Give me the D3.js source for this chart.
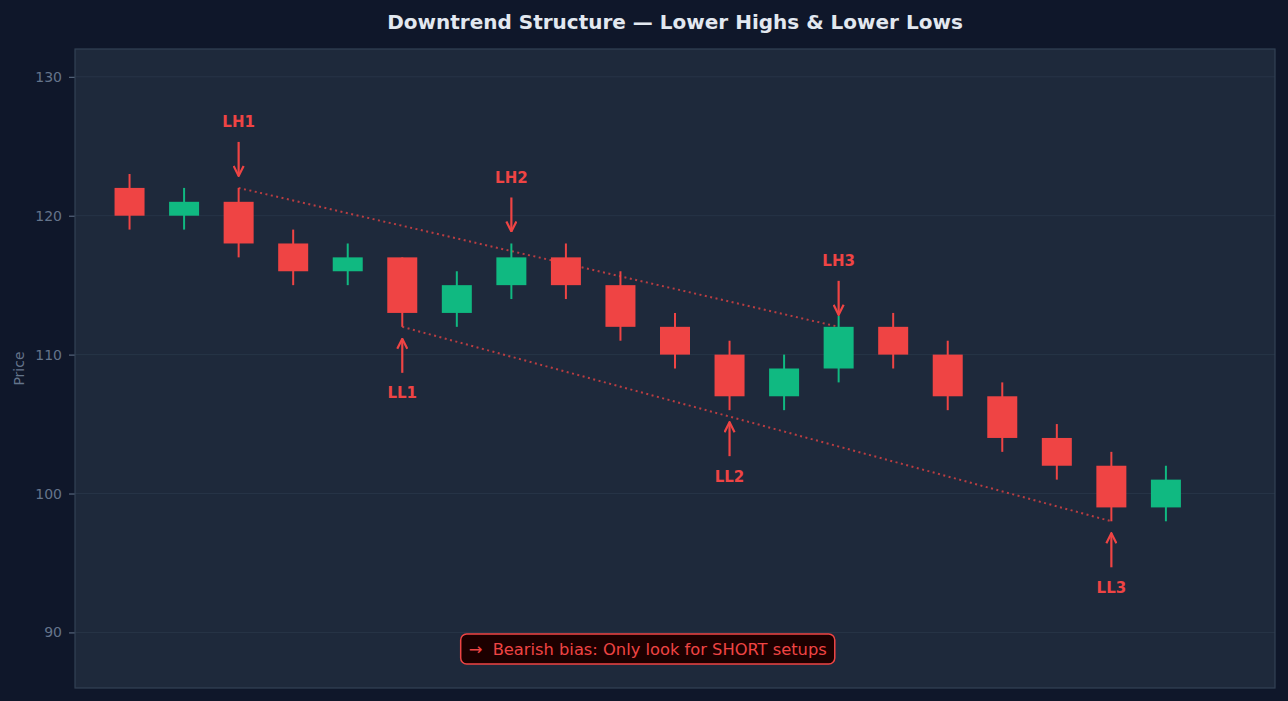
<!DOCTYPE html>
<html>
<head>
<meta charset="utf-8">
<script src="https://cdn.jsdelivr.net/npm/d3@7"></script>
<style>
  html, body { margin: 0; padding: 0; background: #0f172a; }
  svg { display: block; font-family: "DejaVu Sans", sans-serif; }
</style>
</head>
<body>
<div id="chart"></div>
<script>
// Candle data (open, high, low, close), one entry per bar
var opens  = [122, 120, 121, 118, 116, 117, 113, 115, 117, 115, 112, 110, 107, 109, 112, 110, 107, 104, 102,  99];
var highs  = [123, 122, 122, 119, 118, 117, 116, 118, 118, 116, 113, 111, 110, 112.8, 113, 111, 108, 105, 103, 102];
var lows   = [119, 119, 117, 115, 115, 112, 112, 114, 114, 111, 109, 106, 106, 108, 109, 106, 103, 101,  98,  98];
var closes = [120, 121, 118, 116, 117, 113, 115, 117, 115, 112, 110, 107, 109, 112, 110, 107, 104, 102,  99, 101];

// Swing points
var highLabels = ["LH1", "LH2", "LH3"];
var highIdx    = [2, 7, 13];
var highVals   = [122, 118, 112];
var lowLabels  = ["LL1", "LL2", "LL3"];
var lowIdx     = [5, 11, 18];
var lowVals    = [112, 106, 98];

var yTicks = [90, 100, 110, 120, 130];
var titleText = "Downtrend Structure \u2014 Lower Highs & Lower Lows";
var biasText = "\u2192  Bearish bias: Only look for SHORT setups";

var width = 1288, height = 701;
var margin = { top: 49, right: 13, bottom: 13, left: 75 };

var red = "#ef4444", green = "#10b981";

var svg = d3.select("#chart").append("svg")
    .attr("width", width)
    .attr("height", height);

svg.append("rect").attr("width", width).attr("height", height).attr("fill", "#0f172a");

var x = d3.scaleLinear().domain([-1, 21]).range([margin.left, width - margin.right]);
var y = d3.scaleLinear().domain([86, 132]).range([height - margin.bottom, margin.top]);

// plot background
svg.append("rect")
    .attr("x", x.range()[0])
    .attr("y", y.range()[1])
    .attr("width", x.range()[1] - x.range()[0])
    .attr("height", y.range()[0] - y.range()[1])
    .attr("fill", "#1e293b");

// grid lines
svg.append("g").selectAll("line")
    .data(yTicks)
    .enter().append("line")
    .attr("x1", x.range()[0]).attr("x2", x.range()[1])
    .attr("y1", function (d) { return y(d); })
    .attr("y2", function (d) { return y(d); })
    .attr("stroke", "#273447")
    .attr("stroke-width", 1);

// y axis
var yAxis = svg.append("g")
    .attr("transform", "translate(" + x.range()[0] + ",0)")
    .call(d3.axisLeft(y).tickValues(yTicks).tickSize(6).tickPadding(7));
yAxis.select(".domain").remove();
yAxis.selectAll("line").attr("stroke", "#64748b");
yAxis.selectAll("text").attr("fill", "#64748b").style("font-size", "14px")
    .style("font-family", "DejaVu Sans, sans-serif");

svg.append("text")
    .attr("transform", "translate(24," + ((y.range()[0] + y.range()[1]) / 2) + ") rotate(-90)")
    .attr("text-anchor", "middle")
    .attr("fill", "#64748b")
    .style("font-size", "14px")
    .text("Price");

// title
svg.append("text")
    .attr("x", (x.range()[0] + x.range()[1]) / 2)
    .attr("y", 29)
    .attr("text-anchor", "middle")
    .attr("fill", "#e2e8f0")
    .style("font-size", "20px")
    .style("font-weight", "bold")
    .text(titleText);

// trend lines through swing points
var trendLine = d3.line()
    .x(function (d) { return x(d[0]); })
    .y(function (d) { return y(d[1]); });

var upper = [[highIdx[0], highVals[0]], [highIdx[2], highVals[2]]];
var lower = [[lowIdx[0], lowVals[0]], [lowIdx[2], lowVals[2]]];

[upper, lower].forEach(function (pts) {
    svg.append("path")
        .attr("d", trendLine(pts))
        .attr("fill", "none")
        .attr("stroke", red)
        .attr("stroke-opacity", 0.75)
        .attr("stroke-width", 2)
        .attr("stroke-dasharray", "2,3.5");
});

// candles
var bw = (x(1) - x(0)) * 0.55;
var candles = svg.append("g").selectAll("g")
    .data(opens.map(function (o, i) {
        return { i: i, o: o, h: highs[i], l: lows[i], c: closes[i] };
    }))
    .enter().append("g");

candles.append("line")
    .attr("x1", function (d) { return x(d.i); })
    .attr("x2", function (d) { return x(d.i); })
    .attr("y1", function (d) { return y(d.h); })
    .attr("y2", function (d) { return y(d.l); })
    .attr("stroke", function (d) { return d.c >= d.o ? green : red; })
    .attr("stroke-width", 2);

candles.append("rect")
    .attr("x", function (d) { return x(d.i) - bw / 2; })
    .attr("y", function (d) { return y(Math.max(d.o, d.c)); })
    .attr("width", bw)
    .attr("height", function (d) { return y(Math.min(d.o, d.c)) - y(Math.max(d.o, d.c)); })
    .attr("fill", function (d) { return d.c >= d.o ? green : red; });

// arrow head marker (open chevron)
svg.append("defs").append("marker")
    .attr("id", "head")
    .attr("viewBox", "0 0 12 12")
    .attr("refX", 11).attr("refY", 6)
    .attr("markerWidth", 12).attr("markerHeight", 12)
    .attr("markerUnits", "userSpaceOnUse")
    .attr("orient", "auto")
    .append("path")
    .attr("d", "M1,1 L11,6 L1,11")
    .attr("fill", "none")
    .attr("stroke", red)
    .attr("stroke-width", 2.2)
    .attr("stroke-linejoin", "miter");

function annotate(i, val, label, dir) {
    // dir = 1 for above (high), -1 for below (low)
    var cx = x(i), py = y(val);
    svg.append("line")
        .attr("x1", cx).attr("x2", cx)
        .attr("y1", py - dir * 46)
        .attr("y2", py - dir * 12)
        .attr("stroke", red)
        .attr("stroke-width", 2.2)
        .attr("marker-end", "url(#head)");
    svg.append("text")
        .attr("x", cx)
        .attr("y", py - dir * 66)
        .attr("dy", "0.36em")
        .attr("text-anchor", "middle")
        .attr("fill", red)
        .style("font-size", "15px")
        .style("font-weight", "bold")
        .text(label);
}

highIdx.forEach(function (i, k) { annotate(i, highVals[k], highLabels[k], 1); });
lowIdx.forEach(function (i, k) { annotate(i, lowVals[k], lowLabels[k], -1); });

// bias note
var note = svg.append("g");
var noteText = note.append("text")
    .attr("x", x(9.5))
    .attr("y", y(88.8))
    .attr("dy", "0.36em")
    .attr("text-anchor", "middle")
    .attr("fill", red)
    .style("font-size", "16.3px")
    .style("white-space", "pre")
    .text(biasText);
var bb = noteText.node().getBBox();
note.insert("rect", "text")
    .attr("x", bb.x - 8)
    .attr("y", bb.y - 6)
    .attr("width", bb.width + 16)
    .attr("height", bb.height + 11)
    .attr("rx", 6)
    .attr("fill", "#1c0000")
    .attr("stroke", red)
    .attr("stroke-width", 1.5);

// plot border
svg.append("rect")
    .attr("x", x.range()[0])
    .attr("y", y.range()[1])
    .attr("width", x.range()[1] - x.range()[0])
    .attr("height", y.range()[0] - y.range()[1])
    .attr("fill", "none")
    .attr("stroke", "#334155")
    .attr("stroke-width", 1.2);
</script>
</body>
</html>
